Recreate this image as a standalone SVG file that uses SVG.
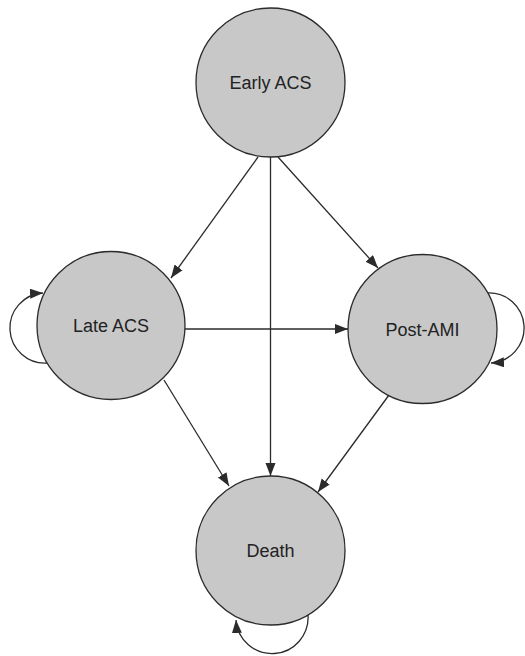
<svg xmlns="http://www.w3.org/2000/svg" width="525" height="656" viewBox="0 0 525 656">
<style>
.node{fill:#c8c8c8;stroke:#2b2b2b;stroke-width:1.3}
.lbl{font-family:"Liberation Sans",Arial,sans-serif;font-size:18px;fill:#222;text-anchor:middle}
.edge{fill:none;stroke:#2b2b2b;stroke-width:1.3;marker-end:url(#arr)}
</style>
<defs>
<marker id="arr" markerUnits="userSpaceOnUse" markerWidth="14" markerHeight="12" refX="13" refY="5" orient="auto">
<path d="M0,0 L13,5 L0,10 Z" fill="#2b2b2b"/>
</marker>
</defs>
<rect width="525" height="656" fill="#fff"/>
<g id="connectors">
<line class="edge" x1="258" y1="157" x2="171" y2="278"/>
<line class="edge" x1="270.5" y1="157" x2="270.5" y2="476"/>
<line class="edge" x1="278" y1="157" x2="378" y2="268"/>
<line class="edge" x1="185" y1="329" x2="348" y2="329"/>
<line class="edge" x1="164" y1="380" x2="229" y2="486"/>
<line class="edge" x1="389" y1="395" x2="318" y2="492"/>
<path class="edge" d="M47,363 A35,35 0 1 1 43,293"/>
<path class="edge" d="M487,293 A35,35 0 1 1 491,363"/>
<path class="edge" d="M308,615 A36,36 0 1 1 236,620"/>
</g>
<g id="early-acs">
<circle class="node" cx="270.5" cy="82.5" r="74.5"/>
<text class="lbl" x="270.5" y="89">Early ACS</text>
</g>
<g id="late-acs">
<circle class="node" cx="111" cy="325.5" r="74"/>
<text class="lbl" x="111" y="331.5">Late ACS</text>
</g>
<g id="post-ami">
<circle class="node" cx="422.5" cy="329" r="74.5"/>
<text class="lbl" x="422.5" y="335.5">Post-AMI</text>
</g>
<g id="death">
<circle class="node" cx="270.5" cy="550.5" r="74.5"/>
<text class="lbl" x="270.5" y="557">Death</text>
</g>
</svg>
